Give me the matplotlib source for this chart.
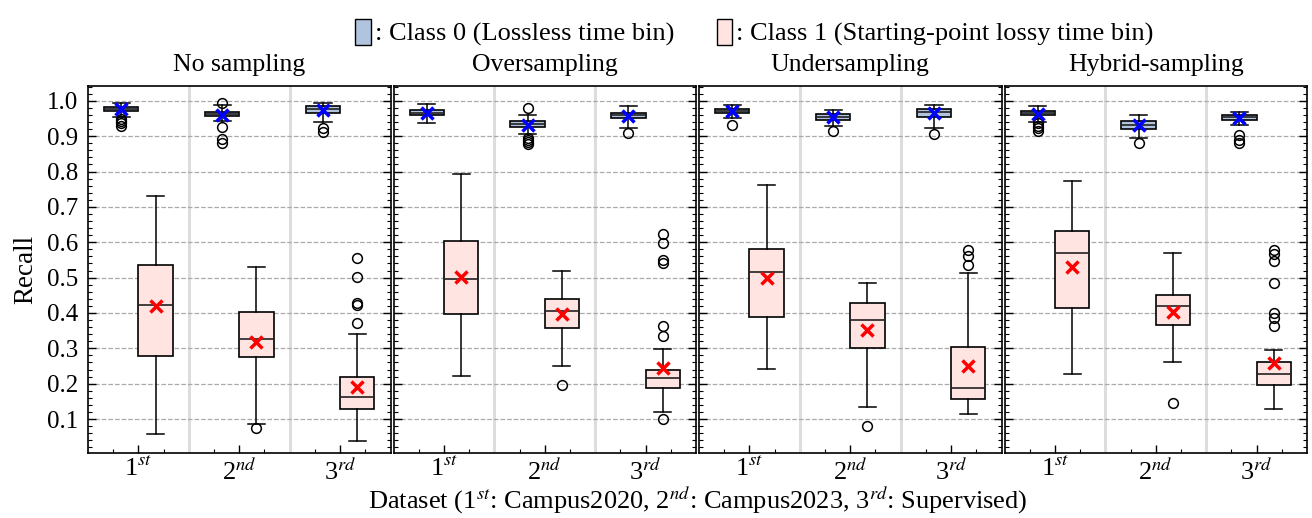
import numpy as np
import matplotlib
matplotlib.use("Agg")
import matplotlib.pyplot as plt
from matplotlib.patches import Patch
from matplotlib.ticker import MultipleLocator, FixedLocator, FormatStrFormatter

plt.rcParams['font.family'] = 'serif'
plt.rcParams['font.serif'] = ['Liberation Serif', 'DejaVu Serif']
plt.rcParams['mathtext.fontset'] = 'stix'

methods = ['No sampling', 'Oversampling', 'Undersampling', 'Hybrid-sampling']
datasets = ['1$^{st}$', '2$^{nd}$', '3$^{rd}$']

# Class 0 (lossless) box statistics, rows = sampling method, cols = dataset
c0_q1 = [[0.971, 0.956, 0.966], [0.959, 0.927, 0.951], [0.966, 0.947, 0.954], [0.959, 0.920, 0.945]]
c0_med = [[0.977, 0.962, 0.977], [0.966, 0.935, 0.960], [0.972, 0.955, 0.968], [0.966, 0.933, 0.953]]
c0_q3 = [[0.983, 0.968, 0.985], [0.973, 0.942, 0.967], [0.977, 0.963, 0.977], [0.970, 0.942, 0.960]]
c0_lo = [[0.955, 0.944, 0.939], [0.938, 0.905, 0.924], [0.952, 0.929, 0.923], [0.941, 0.895, 0.932]]
c0_hi = [[0.993, 0.988, 0.995], [0.992, 0.960, 0.986], [0.989, 0.975, 0.989], [0.984, 0.961, 0.969]]
c0_mean = [[0.976, 0.959, 0.974], [0.966, 0.932, 0.958], [0.971, 0.955, 0.965], [0.964, 0.932, 0.951]]
c0_fliers = [
    [[0.948, 0.942, 0.936, 0.930], [0.993, 0.927, 0.893, 0.881], [0.923, 0.913]],
    [[], [0.979, 0.896, 0.890, 0.884, 0.878], [0.909]],
    [[0.931], [0.915], [0.907]],
    [[0.936, 0.930, 0.924, 0.914], [0.880], [0.903, 0.890, 0.882]],
]

# Class 1 (starting-point lossy) box statistics
c1_q1 = [[0.277, 0.275, 0.128], [0.397, 0.358, 0.188], [0.389, 0.301, 0.157], [0.415, 0.366, 0.197]]
c1_med = [[0.423, 0.325, 0.162], [0.495, 0.406, 0.216], [0.516, 0.380, 0.187], [0.571, 0.419, 0.227]]
c1_q3 = [[0.535, 0.403, 0.219], [0.603, 0.439, 0.240], [0.582, 0.427, 0.303], [0.633, 0.450, 0.262]]
c1_lo = [[0.059, 0.086, 0.037], [0.222, 0.249, 0.119], [0.242, 0.133, 0.113], [0.227, 0.262, 0.128]]
c1_hi = [[0.730, 0.529, 0.340], [0.792, 0.518, 0.297], [0.763, 0.484, 0.512], [0.773, 0.570, 0.295]]
c1_mean = [[0.419, 0.318, 0.192], [0.501, 0.396, 0.244], [0.500, 0.351, 0.251], [0.531, 0.404, 0.258]]
c1_fliers = [
    [[], [0.076], [0.555, 0.503, 0.428, 0.423, 0.371]],
    [[], [0.195], [0.624, 0.598, 0.550, 0.540, 0.364, 0.335, 0.099]],
    [[], [0.081], [0.578, 0.560, 0.537]],
    [[], [0.144], [0.577, 0.567, 0.546, 0.486, 0.399, 0.385, 0.364]],
]

color0 = '#b0c4de'
color1 = '#ffe4e1'


def make_stats(q1, med, q3, lo, hi, mean, fliers, m):
    out = []
    for d in range(3):
        out.append(dict(q1=q1[m][d], med=med[m][d], q3=q3[m][d],
                        whislo=lo[m][d], whishi=hi[m][d],
                        mean=mean[m][d], fliers=fliers[m][d]))
    return out


fig, axes = plt.subplots(1, 4, figsize=(13.12, 5.18), dpi=100, sharey=True)
fig.subplots_adjust(left=0.0671, right=0.9962, top=0.834, bottom=0.1255, wspace=0.01)

pos = np.arange(3)
width = 0.34
flierprops = dict(marker='o', markerfacecolor='none', markeredgecolor='black', markersize=7, markeredgewidth=1.1)

for m, ax in enumerate(axes):
    st0 = make_stats(c0_q1, c0_med, c0_q3, c0_lo, c0_hi, c0_mean, c0_fliers, m)
    st1 = make_stats(c1_q1, c1_med, c1_q3, c1_lo, c1_hi, c1_mean, c1_fliers, m)
    for st, offset, color, mcol in [(st0, -width / 2, color0, 'blue'), (st1, width / 2, color1, 'red')]:
        ax.bxp(st, positions=pos + offset, widths=width, patch_artist=True,
               showmeans=True, showfliers=True,
               boxprops=dict(facecolor=color, edgecolor='black', linewidth=1.2),
               medianprops=dict(color='#222222', linewidth=1.2),
               whiskerprops=dict(color='black', linewidth=1.1),
               capprops=dict(color='black', linewidth=1.1),
               flierprops=flierprops,
               meanprops=dict(marker='x', markeredgecolor=mcol, markersize=9, markeredgewidth=2.5),
               manage_ticks=False, zorder=3)

    # light separators between the dataset groups
    for xs in [0.5, 1.5]:
        ax.axvline(xs, color='#dddddd', linewidth=2.2, zorder=0)

    ax.set_xlim(-0.5, 2.5)
    ax.set_ylim(0.004, 1.042)
    ax.yaxis.set_major_locator(MultipleLocator(0.1))
    ax.yaxis.set_minor_locator(MultipleLocator(0.02))
    ax.yaxis.set_major_formatter(FormatStrFormatter('%.1f'))
    ax.grid(axis='y', which='major', linestyle='--', color='#aaaaaa', linewidth=0.9, zorder=0)
    ax.set_axisbelow(True)
    ax.set_xticks(pos)
    ax.set_xticklabels(datasets, fontsize=19)
    ax.xaxis.set_minor_locator(FixedLocator([-0.25, 0.25, 0.75, 1.25, 1.75, 2.25]))
    ax.tick_params(axis='both', which='both', direction='in', top=False, right=True)
    ax.tick_params(which='major', length=6, width=1.0)
    ax.tick_params(which='minor', length=3, width=0.8)
    ax.tick_params(axis='y', labelsize=18, pad=7)
    ax.tick_params(axis='x', pad=3)
    for sp in ax.spines.values():
        sp.set_linewidth(1.2)
    ax.set_title(methods[m], fontsize=18.5, pad=11)

axes[0].set_ylabel('Recall', fontsize=19.5, labelpad=6)

x_mid = (axes[0].get_position().x0 + axes[-1].get_position().x1) / 2
fig.text(x_mid, 0.018,
         'Dataset (1$^{st}$: Campus2020, 2$^{nd}$: Campus2023, 3$^{rd}$: Supervised)',
         ha='center', va='baseline', fontsize=19)

handles = [Patch(facecolor=color0, edgecolor='black', linewidth=1.0),
           Patch(facecolor=color1, edgecolor='black', linewidth=1.0)]
labels = [': Class 0 (Lossless time bin)', ': Class 1 (Starting-point lossy time bin)']
fig.legend(handles, labels, loc='upper center', bbox_to_anchor=(0.575, 1.01), ncol=2,
           frameon=False, fontsize=19, handlelength=0.6, handleheight=1.15,
           handletextpad=0.15, columnspacing=1.6)

fig.savefig('out.png', dpi=100)
